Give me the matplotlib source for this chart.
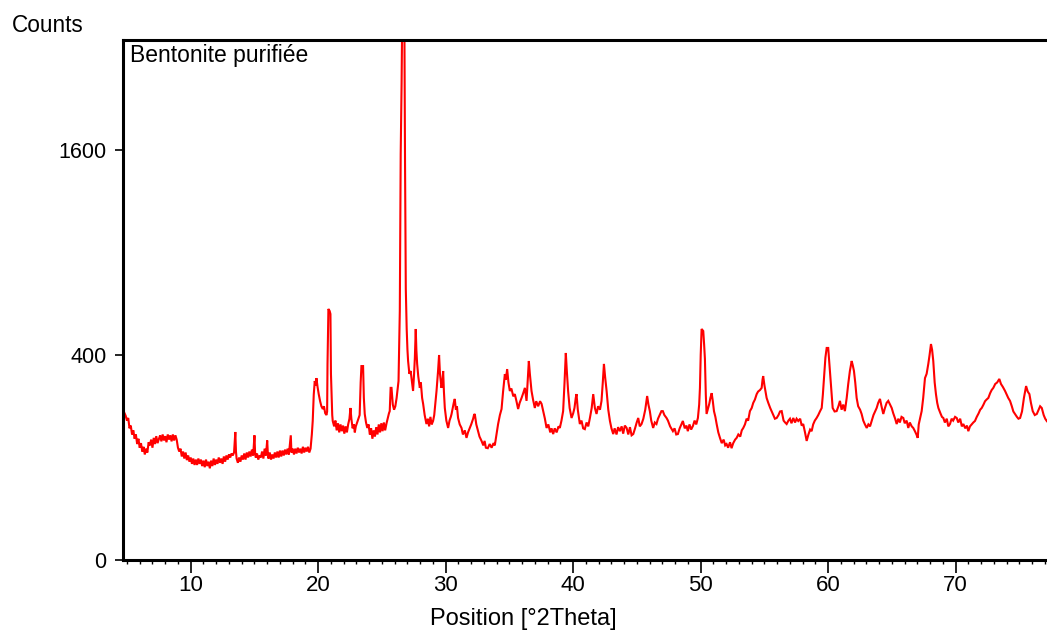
import numpy as np
import matplotlib
matplotlib.use("Agg")
import matplotlib.pyplot as plt
from matplotlib.ticker import FixedLocator, MultipleLocator

plt.rcParams['font.family'] = ['Liberation Sans', 'DejaVu Sans']

# diffractogram, (2theta, counts), split by range
scan_05_19 = [
    (4.75, 210), (4.9, 198), (5.0, 185), (5.1, 192), (5.2, 165), (5.3, 172), (5.4, 150), (5.5, 160),
    (5.6, 140), (5.7, 150), (5.8, 128), (5.9, 140), (6.0, 120), (6.1, 130), (6.2, 112), (6.3, 122),
    (6.4, 106), (6.5, 118), (6.6, 110), (6.7, 132), (6.8, 125), (6.9, 138), (7.0, 120), (7.1, 142),
    (7.2, 128), (7.3, 146), (7.4, 130), (7.6, 148), (7.7, 134), (7.8, 150), (7.9, 136), (8.0, 146),
    (8.1, 132), (8.2, 150), (8.3, 138), (8.4, 148), (8.5, 134), (8.6, 150), (8.7, 136), (8.8, 148),
    (8.9, 138), (9.0, 120), (9.1, 112), (9.2, 118), (9.3, 102), (9.4, 112), (9.5, 98), (9.6, 110),
    (9.7, 95), (9.8, 104), (9.9, 92), (10.0, 100), (10.1, 88), (10.2, 98), (10.3, 86), (10.4, 96),
    (10.5, 86), (10.6, 98), (10.7, 88), (10.8, 96), (10.9, 84), (11.0, 94), (11.1, 82), (11.2, 96),
    (11.3, 84), (11.4, 92), (11.5, 80), (11.6, 94), (11.7, 84), (11.8, 98), (11.9, 86), (12.0, 96),
    (12.1, 88), (12.2, 100), (12.3, 90), (12.4, 98), (12.5, 88), (12.6, 102), (12.7, 92), (12.8, 104),
    (12.9, 96), (13.0, 106), (13.1, 100), (13.2, 108), (13.3, 104), (13.4, 110), (13.5, 156), (13.55, 112),
    (13.6, 98), (13.7, 90), (13.8, 100), (13.9, 92), (14.0, 104), (14.1, 96), (14.2, 108), (14.3, 96),
    (14.4, 110), (14.5, 100), (14.6, 112), (14.7, 102), (14.8, 116), (14.9, 104), (15.0, 148), (15.05, 110),
    (15.1, 100), (15.2, 108), (15.3, 96), (15.4, 104), (15.5, 100), (15.6, 112), (15.7, 98), (15.8, 118),
    (15.9, 104), (16.0, 136), (16.05, 108), (16.1, 98), (16.2, 110), (16.3, 96), (16.4, 106), (16.5, 98),
    (16.6, 110), (16.7, 100), (16.8, 112), (16.9, 100), (17.0, 114), (17.1, 102), (17.2, 114), (17.3, 104),
    (17.4, 116), (17.5, 106), (17.6, 118), (17.7, 106), (17.85, 148), (17.9, 110), (18.0, 118), (18.1, 106),
    (18.2, 118), (18.3, 108), (18.4, 120), (18.5, 110), (18.6, 118), (18.7, 108), (18.8, 122), (18.9, 110),
    (19.0, 120), (19.1, 112), (19.2, 122), (19.3, 110), (19.4, 118),
]

scan_19_33 = [
    (19.5, 150), (19.57, 184), (19.65, 260), (19.73, 305), (19.8, 290), (19.86, 315), (19.95, 285),
    (20.04, 262), (20.15, 240), (20.25, 225), (20.36, 217), (20.45, 225), (20.55, 205), (20.65, 200),
    (20.7, 210), (20.73, 366), (20.8, 600), (20.9, 590), (20.96, 576), (21.0, 330), (21.04, 272),
    (21.1, 200), (21.14, 184), (21.25, 170), (21.35, 185), (21.45, 160), (21.55, 178), (21.65, 155),
    (21.75, 175), (21.85, 158), (21.95, 172), (22.05, 152), (22.15, 170), (22.25, 155), (22.35, 175),
    (22.45, 190), (22.53, 220), (22.6, 190), (22.7, 165), (22.8, 175), (22.87, 155), (22.95, 170),
    (23.05, 180), (23.15, 190), (23.25, 200), (23.33, 300), (23.39, 358), (23.52, 358), (23.58, 250),
    (23.65, 203), (23.75, 180), (23.85, 166), (23.95, 175), (24.05, 150), (24.15, 165), (24.25, 140),
    (24.35, 160), (24.45, 145), (24.55, 168), (24.65, 150), (24.75, 175), (24.85, 155), (24.95, 178),
    (25.05, 158), (25.15, 180), (25.25, 160), (25.36, 178), (25.45, 190), (25.55, 205), (25.61, 211),
    (25.68, 282), (25.75, 282), (25.85, 230), (25.95, 215), (26.05, 225), (26.15, 250), (26.3, 305),
    (26.4, 590), (26.47, 1570), (26.54, 2160), (26.62, 3300), (26.74, 3300), (26.81, 1500), (26.87, 700),
    (26.94, 508), (27.0, 420), (27.05, 377), (27.15, 330), (27.25, 340), (27.32, 315), (27.44, 272),
    (27.52, 330), (27.58, 388), (27.65, 508), (27.7, 420), (27.76, 366), (27.85, 320), (27.97, 282),
    (28.05, 300), (28.15, 250), (28.23, 232), (28.35, 200), (28.49, 176), (28.6, 190), (28.7, 170),
    (28.8, 195), (28.9, 175), (29.01, 184), (29.1, 200), (29.2, 240), (29.28, 272), (29.4, 340),
    (29.48, 400), (29.55, 330), (29.67, 282), (29.74, 300), (29.80, 340), (29.86, 270), (29.93, 220),
    (30.05, 185), (30.19, 166), (30.3, 185), (30.4, 195), (30.46, 203), (30.55, 220), (30.63, 235),
    (30.71, 247), (30.8, 215), (30.88, 225), (30.97, 192), (31.1, 175), (31.24, 166), (31.35, 150),
    (31.5, 160), (31.63, 142), (31.75, 155), (31.89, 166), (32.0, 175), (32.15, 190), (32.22, 200),
    (32.28, 203), (32.4, 175), (32.54, 158), (32.65, 145), (32.81, 135), (32.95, 125),
]

scan_33_47 = [
    (33.05, 135), (33.15, 120), (33.30, 119), (33.45, 128), (33.6, 120), (33.75, 130), (33.85, 125),
    (33.98, 150), (34.11, 176), (34.25, 200), (34.38, 217), (34.5, 270), (34.64, 329), (34.72, 310),
    (34.82, 347), (34.92, 300), (35.03, 272), (35.15, 280), (35.3, 255), (35.42, 262), (35.55, 240),
    (35.68, 217), (35.8, 235), (35.95, 250), (36.08, 265), (36.21, 282), (36.34, 241), (36.42, 300),
    (36.52, 377), (36.6, 330), (36.73, 272), (36.85, 245), (36.99, 220), (37.1, 240), (37.25, 225),
    (37.4, 240), (37.52, 232), (37.65, 210), (37.78, 190), (37.91, 166), (38.05, 175), (38.2, 155),
    (38.3, 165), (38.43, 151), (38.55, 165), (38.7, 155), (38.85, 170), (38.95, 166), (39.08, 185),
    (39.21, 211), (39.32, 300), (39.42, 408), (39.5, 340), (39.60, 272), (39.72, 220), (39.87, 192),
    (40.0, 205), (40.1, 220), (40.2, 250), (40.26, 262), (40.36, 215), (40.52, 176), (40.65, 185),
    (40.78, 165), (40.91, 163), (41.05, 180), (41.18, 170), (41.31, 192), (41.45, 220), (41.57, 262),
    (41.7, 220), (41.83, 203), (41.95, 225), (42.1, 215), (42.22, 241), (42.32, 300), (42.41, 366),
    (42.5, 320), (42.62, 272), (42.75, 215), (42.88, 184), (43.0, 165), (43.14, 151), (43.25, 165),
    (43.4, 150), (43.52, 168), (43.66, 158), (43.8, 170), (43.92, 152), (44.05, 172), (44.19, 166),
    (44.32, 150), (44.45, 168), (44.58, 148), (44.71, 151), (44.85, 165), (44.98, 180), (45.10, 192),
    (45.22, 170), (45.36, 176), (45.5, 190), (45.65, 215), (45.80, 256), (45.9, 230), (46.01, 211),
    (46.12, 185), (46.27, 166), (46.4, 180), (46.53, 176), (46.65, 190), (46.78, 200), (46.92, 211),
]

scan_47_61 = [
    (47.03, 211), (47.15, 200), (47.32, 192), (47.43, 185), (47.6, 170), (47.82, 158), (47.95, 165),
    (48.08, 150), (48.21, 151), (48.35, 165), (48.48, 175), (48.60, 184), (48.75, 165), (48.88, 172),
    (48.99, 158), (49.12, 175), (49.25, 162), (49.39, 171), (49.52, 185), (49.65, 175), (49.78, 192),
    (49.88, 230), (49.94, 282), (50.0, 400), (50.07, 508), (50.20, 499), (50.27, 440), (50.33, 385),
    (50.4, 260), (50.46, 203), (50.55, 215), (50.67, 232), (50.76, 250), (50.86, 265), (50.95, 240),
    (51.04, 211), (51.15, 195), (51.25, 176), (51.38, 155), (51.51, 142), (51.65, 130), (51.8, 138),
    (51.92, 125), (52.03, 128), (52.15, 120), (52.3, 132), (52.42, 119), (52.55, 130), (52.7, 138),
    (52.82, 142), (52.95, 150), (53.1, 145), (53.22, 160), (53.34, 166), (53.47, 175), (53.6, 190),
    (53.72, 185), (53.86, 211), (54.0, 220), (54.12, 235), (54.25, 245), (54.39, 262), (54.5, 270),
    (54.65, 275), (54.78, 282), (54.85, 310), (54.90, 322), (55.0, 290), (55.17, 250), (55.3, 235),
    (55.45, 220), (55.56, 211), (55.7, 200), (55.82, 190), (55.96, 192), (56.1, 200), (56.22, 210),
    (56.35, 211), (56.5, 185), (56.62, 180), (56.74, 176), (56.88, 185), (57.0, 190), (57.12, 178),
    (57.26, 192), (57.4, 180), (57.52, 190), (57.65, 184), (57.8, 190), (57.92, 172), (58.04, 176),
    (58.18, 155), (58.31, 135), (58.45, 150), (58.58, 162), (58.70, 158), (58.82, 175), (58.95, 185),
    (59.09, 192), (59.22, 200), (59.35, 210), (59.49, 220), (59.58, 260), (59.67, 315), (59.78, 390),
    (59.88, 428), (60.00, 428), (60.07, 380), (60.14, 340), (60.25, 270), (60.35, 220), (60.5, 210),
    (60.66, 211), (60.8, 225), (60.92, 241),
]

scan_61_77 = [
    (61.05, 215), (61.18, 230), (61.31, 211), (61.45, 250), (61.57, 295), (61.7, 340), (61.84, 377),
    (61.93, 360), (62.02, 340), (62.12, 300), (62.23, 250), (62.35, 225), (62.5, 215), (62.62, 203),
    (62.75, 185), (62.88, 175), (63.02, 166), (63.15, 175), (63.28, 170), (63.41, 184), (63.55, 200),
    (63.68, 210), (63.80, 220), (63.92, 235), (64.06, 247), (64.18, 225), (64.32, 203), (64.45, 220),
    (64.58, 235), (64.71, 241), (64.85, 230), (64.98, 220), (65.1, 205), (65.25, 190), (65.37, 176),
    (65.5, 190), (65.62, 180), (65.75, 195), (65.89, 192), (66.0, 178), (66.15, 185), (66.28, 166),
    (66.4, 180), (66.55, 170), (66.67, 166), (66.8, 158), (66.92, 150), (67.02, 142), (67.1, 175),
    (67.2, 190), (67.33, 211), (67.45, 250), (67.59, 315), (67.72, 330), (67.85, 366), (67.95, 400),
    (68.06, 444), (68.15, 420), (68.24, 377), (68.35, 300), (68.45, 262), (68.55, 235), (68.64, 220),
    (68.8, 205), (68.92, 195), (69.03, 192), (69.15, 180), (69.3, 190), (69.42, 170), (69.55, 176),
    (69.68, 190), (69.8, 185), (69.95, 195), (70.08, 192), (70.2, 180), (70.35, 190), (70.48, 170),
    (70.60, 176), (70.75, 165), (70.88, 172), (70.99, 158), (71.12, 170), (71.25, 175), (71.38, 180),
    (71.51, 184), (71.65, 195), (71.8, 205), (71.92, 215), (72.04, 220), (72.18, 230), (72.3, 240),
    (72.42, 245), (72.56, 250), (72.7, 265), (72.82, 275), (72.95, 282), (73.1, 295), (73.25, 300),
    (73.42, 312), (73.55, 295), (73.7, 285), (73.87, 272), (74.0, 260), (74.12, 250), (74.26, 241),
    (74.4, 225), (74.52, 210), (74.65, 203), (74.8, 195), (74.92, 190), (75.05, 192), (75.2, 210),
    (75.35, 250), (75.52, 288), (75.65, 270), (75.78, 262), (75.9, 235), (76.04, 211), (76.2, 200),
    (76.36, 203), (76.5, 215), (76.62, 225), (76.75, 220), (76.9, 200), (77.02, 190), (77.14, 184),
    (77.3, 190),
]

y_ticks = [0, 400, 1600]
x_ticks = [10, 20, 30, 40, 50, 60, 70]

scan = np.array(scan_05_19 + scan_19_33 + scan_33_47 + scan_47_61 + scan_61_77)
two_theta, counts = scan[:, 0], scan[:, 1]

fig = plt.figure(figsize=(10.47, 6.3), dpi=100)
ax = fig.add_axes([123 / 1047, 1 - 560 / 630, 1 - 123 / 1047, 520 / 630])

ax.plot(two_theta, counts, color='#ff0000', lw=1.5, solid_joinstyle='miter')

# square-root intensity axis, as the diffractometer software draws it
ax.set_yscale('function', functions=(lambda v: np.sqrt(np.clip(v, 0, None)), lambda v: np.square(v)))
ax.set_ylim(0, 2574)
ax.set_xlim(4.69, 77.16)

ax.yaxis.set_major_locator(FixedLocator(y_ticks))
ax.yaxis.set_minor_locator(FixedLocator([]))
ax.set_yticklabels([str(t) for t in y_ticks])
ax.xaxis.set_major_locator(FixedLocator(x_ticks))
ax.xaxis.set_minor_locator(MultipleLocator(1))

for side in ['left', 'top', 'bottom']:
    ax.spines[side].set_linewidth(2.2)
ax.spines['right'].set_visible(False)

ax.tick_params(axis='x', which='major', direction='out', length=9, width=1.2, labelsize=16, pad=2)
ax.tick_params(axis='x', which='minor', direction='out', length=3, width=1.0)
ax.tick_params(axis='y', which='major', direction='out', length=6, width=1.2, labelsize=15.5, pad=6)

ax.text(0.008, 0.993, 'Bentonite purifiée', transform=ax.transAxes, ha='left', va='top', fontsize=16.5)
fig.text(12 / 1047, 1 - 25 / 630, 'Counts', ha='left', va='center', fontsize=16.3)
fig.text(523 / 1047, 1 - 619 / 630, 'Position [°2Theta]', ha='center', va='center', fontsize=17)

fig.savefig('out.png', dpi=100)
